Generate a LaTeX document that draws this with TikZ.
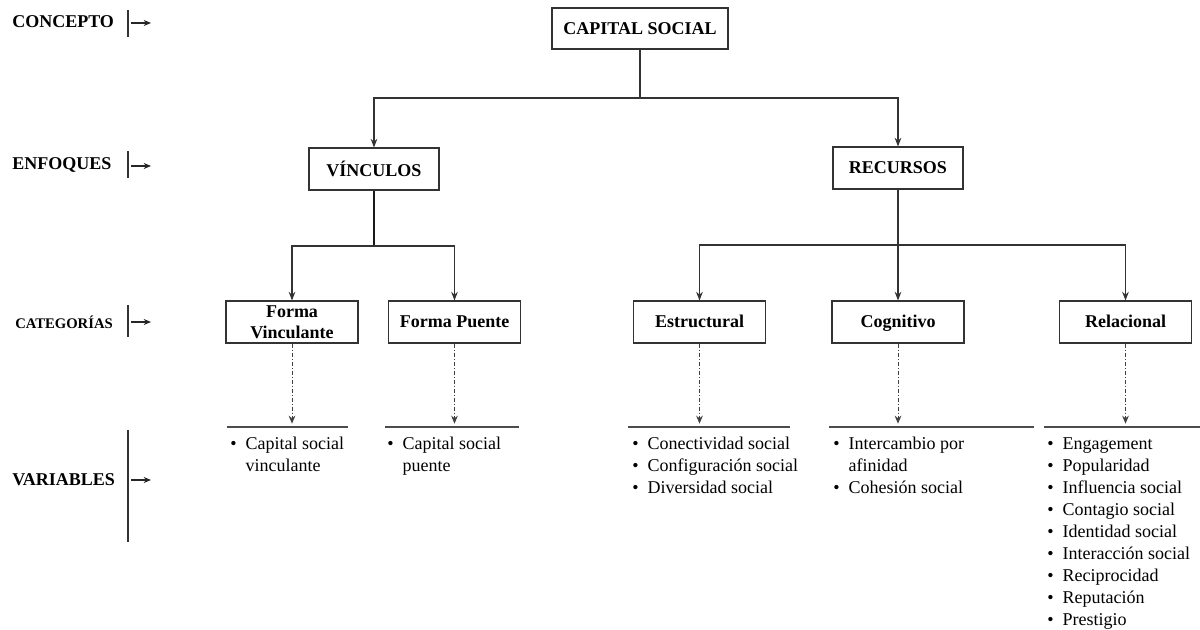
\documentclass[tikz,border=0pt]{standalone}
\usepackage{fontspec}
\setmainfont{Liberation Serif}
\usetikzlibrary{arrows.meta}
\newcommand{\vitem}[1]{\makebox[11.5pt][l]{\textbullet}#1}
\newcommand{\vcont}[1]{\hspace*{11.5pt}#1}
\begin{document}
\begin{tikzpicture}[x=0.75pt,y=-0.75pt,
  box/.style={draw=black!80, line width=0.8pt, fill=white, inner sep=0pt,
    font=\fontsize{13.5}{15.75}\selectfont\bfseries, align=center},
  topbox/.style={box, minimum width=97.5pt, minimum height=31.5pt},
  catbox/.style={box, minimum width=99pt, minimum height=31.5pt,
    text height=10pt, text depth=2pt},
  catbox2/.style={box, minimum width=99pt, minimum height=31.5pt},
  link/.style={draw=black!80, line width=0.8pt, -{Stealth[length=6.5pt,width=5pt]}},
  plain/.style={draw=black!80, line width=0.8pt},
  heavy/.style={draw=black!90, line width=1.5pt},
  dd/.style={draw=black!75, line width=0.7pt,
    dash pattern=on 3pt off 1.5pt on 0.75pt off 1.5pt,
    -{Stealth[length=6pt,width=5pt]}, shorten >=2.5pt},
  rule/.style={draw=black!70, line width=0.8pt},
  varlist/.style={anchor=north west, inner sep=0pt, align=left,
    font=\fontsize{13.5}{16.5}\selectfont},
  side/.style={anchor=west, inner sep=0pt, font=\fontsize{13.5}{15}\selectfont\bfseries},
  sidearrow/.style={draw=black!85, line width=0.8pt, -{Stealth[length=5.5pt,width=4.5pt]}}
]
\useasboundingbox (0,0) rectangle (1200,630);

% ---- level markers on the left ----
\node[side] (lconc) at (12,22) {CONCEPTO};
\node[side] (lenf) at (12,165) {ENFOQUES};
\node[side, font=\fontsize{11}{13}\selectfont\bfseries] (lcat) at (15,322) {CATEGORÍAS};
\node[side] (lvar) at (12,480) {VARIABLES};

\coordinate (b1t) at (128,10);  \coordinate (b1b) at (128,37);
\coordinate (b2t) at (128,151); \coordinate (b2b) at (128,178);
\coordinate (b3t) at (128,305); \coordinate (b3b) at (128,337);
\coordinate (b4t) at (128,430); \coordinate (b4b) at (128,542);
\draw[plain] (b1t) -- (b1b);
\draw[plain] (b2t) -- (b2b);
\draw[plain] (b3t) -- (b3b);
\draw[plain] (b4t) -- (b4b);
\coordinate (a1s) at (131,23);  \coordinate (a1e) at (151,23);
\coordinate (a2s) at (131,166); \coordinate (a2e) at (151,166);
\coordinate (a3s) at (131,322); \coordinate (a3e) at (151,322);
\coordinate (a4s) at (131,480); \coordinate (a4e) at (151,480);
\draw[sidearrow] (a1s) -- (a1e);
\draw[sidearrow] (a2s) -- (a2e);
\draw[sidearrow] (a3s) -- (a3e);
\draw[sidearrow] (a4s) -- (a4e);

% ---- concept and approaches ----
\node[box, minimum width=132pt, minimum height=30.75pt] (cs) at (640,28.5) {CAPITAL SOCIAL};
\node[topbox] (vin) at (374,169) {VÍNCULOS};
\node[topbox] (rec) at (898,168) {RECURSOS};

% ---- categories ----
\node[catbox2] (fv)  at (292,322)   {Forma\\Vinculante};
\node[catbox] (fp)  at (454.5,322) {Forma Puente};
\node[catbox] (est) at (699.5,322) {Estructural};
\node[catbox] (cog) at (898,322)   {Cognitivo};
\node[catbox] (rel) at (1125.5,322){Relacional};

% ---- tree connectors ----
\coordinate (j0) at (640,98);
\draw[plain] (cs.south) -- (j0);
\draw[link] (j0) -| (vin.north);
\draw[link] (j0) -| (rec.north);

\coordinate (j1) at (374,246);
\draw[heavy] (vin.south) -- (j1);
\draw[link] (j1) -| (fv.north);
\draw[link] (j1) -| (fp.north);

\coordinate (j2) at (898,245);
\draw[plain] (rec.south) -- (j2);
\draw[link] (j2) -| (est.north);
\draw[link] (j2) -- (cog.north);
\draw[link] (j2) -| (rel.north);

% ---- rules above the variable lists ----
\coordinate (r1a) at (227,427);  \coordinate (r1b) at (348,427);
\coordinate (r2a) at (385,427);  \coordinate (r2b) at (519,427);
\coordinate (r3a) at (628,427);  \coordinate (r3b) at (790,427);
\coordinate (r4a) at (829,427);  \coordinate (r4b) at (1034,427);
\coordinate (r5a) at (1044,427); \coordinate (r5b) at (1200,427);
\draw[rule] (r1a) -- (r1b);
\draw[rule] (r2a) -- (r2b);
\draw[rule] (r3a) -- (r3b);
\draw[rule] (r4a) -- (r4b);
\draw[rule] (r5a) -- (r5b);

% ---- dash-dot links from categories to variables ----
\draw[dd] (fv.south)  -- (fv.south |- r1a);
\draw[dd] (fp.south)  -- (fp.south |- r2a);
\draw[dd] (est.south) -- (est.south |- r3a);
\draw[dd] (cog.south) -- (cog.south |- r4a);
\draw[dd] (rel.south) -- (rel.south |- r5a);

% ---- variable lists ----
\node[varlist] (v1) at (230,437) {\vitem{Capital social}\\\vcont{vinculante}};
\node[varlist] (v2) at (387,437) {\vitem{Capital social}\\\vcont{puente}};
\node[varlist] (v3) at (632,437) {\vitem{Conectividad social}\\\vitem{Configuración social}\\\vitem{Diversidad social}};
\node[varlist] (v4) at (833,437) {\vitem{Intercambio por}\\\vcont{afinidad}\\\vitem{Cohesión social}};
\node[varlist] (v5) at (1047,437) {\vitem{Engagement}\\\vitem{Popularidad}\\\vitem{Influencia social}\\\vitem{Contagio social}\\\vitem{Identidad social}\\\vitem{Interacción social}\\\vitem{Reciprocidad}\\\vitem{Reputación}\\\vitem{Prestigio}};
\end{tikzpicture}
\end{document}
